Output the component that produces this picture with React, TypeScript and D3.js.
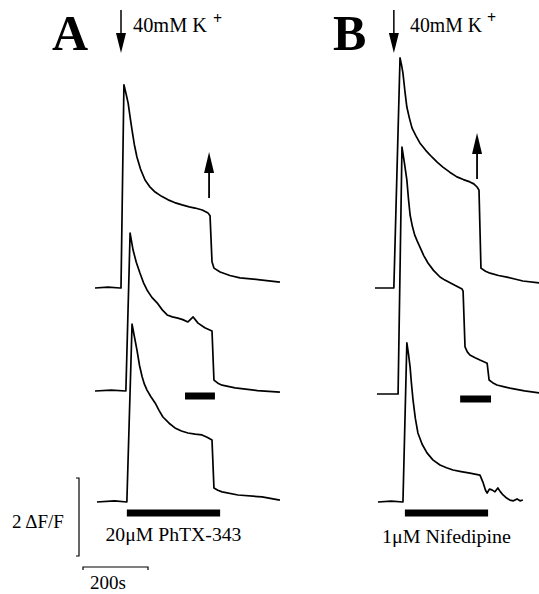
import { useEffect, useRef } from "react";
import * as d3 from "d3";

// [time (s), ΔF/F], time from the start of each panel's traces
const traceA1: [number, number][] = [
  [0, 0], [40, 0.02], [77, 0], [80, 0], [89, 5.21], [95, 5.0], [102, 4.74], [108, 4.38], [114, 4.05],
  [121, 3.68], [129, 3.36], [140, 3.05], [154, 2.77], [168, 2.6], [185, 2.46], [205, 2.35], [225, 2.26],
  [245, 2.19], [268, 2.13], [290, 2.08], [308, 2.05], [330, 2.0], [348, 1.92], [354, 1.85], [360, 0.67],
  [366, 0.51], [385, 0.41], [415, 0.32], [446, 0.26], [508, 0.21], [569, 0.15],
];
const traceA2: [number, number][] = [
  [0, 0], [50, 0.02], [95, 0], [108, 4.05], [117, 3.62], [127, 3.3], [138, 3.03], [149, 2.78], [160, 2.59],
  [175, 2.4], [191, 2.26], [207, 2.08], [222, 1.95], [238, 1.9], [255, 1.87], [270, 1.83], [286, 1.77],
  [302, 1.9], [317, 1.74], [338, 1.62], [360, 1.54], [366, 0.28], [378, 0.2], [391, 0.15], [431, 0.08],
  [500, 0.01], [569, -0.03],
];
const traceA3: [number, number][] = [
  [6, 0], [60, 0.03], [98, 0], [114, 4.56], [121, 4.25], [129, 3.9], [137, 3.5], [145, 3.21], [152, 3.02],
  [160, 2.87], [172, 2.7], [185, 2.54], [197, 2.35], [209, 2.18], [228, 2.02], [246, 1.9], [266, 1.82],
  [286, 1.77], [308, 1.74], [329, 1.72], [345, 1.66], [360, 1.59], [366, 0.36], [378, 0.3], [391, 0.26],
  [440, 0.18], [514, 0.13], [569, 0.05],
];
const traceB1: [number, number][] = [
  [0, 0], [55, 0], [58, 0], [77, 5.9], [82, 5.7], [86, 5.51], [92, 5.05], [98, 4.64], [106, 4.35],
  [114, 4.1], [126, 3.9], [138, 3.72], [156, 3.53], [175, 3.36], [192, 3.22], [209, 3.1], [230, 2.97],
  [252, 2.85], [272, 2.78], [292, 2.72], [304, 2.67], [314, 2.59], [320, 2.51], [326, 0.51], [340, 0.43],
  [354, 0.38], [380, 0.32], [406, 0.28], [430, 0.23], [455, 0.18], [505, 0.13],
];
const traceB2: [number, number][] = [
  [6, 0], [71, 0], [83, 6.33], [90, 5.95], [98, 5.49], [103, 5.0], [108, 4.59], [115, 4.3], [122, 4.08],
  [130, 3.92], [138, 3.77], [150, 3.55], [163, 3.36], [180, 3.17], [200, 3.0], [215, 2.92], [231, 2.85],
  [250, 2.77], [268, 2.69], [271, 2.64], [277, 1.21], [284, 1.08], [292, 1.0], [308, 0.93], [323, 0.87],
  [345, 0.79], [351, 0.36], [362, 0.29], [375, 0.23], [395, 0.19], [415, 0.15], [460, 0.08], [505, 0.03],
];
const traceB3: [number, number][] = [
  [9, 0], [50, 0.02], [86, 0], [98, 4.08], [103, 3.8], [108, 3.46], [112, 3.05], [117, 2.62], [124, 2.15],
  [132, 1.77], [145, 1.48], [160, 1.26], [178, 1.08], [200, 0.95], [220, 0.88], [240, 0.82], [265, 0.78],
  [292, 0.74], [323, 0.69], [332, 0.51], [340, 0.3], [345, 0.23], [352, 0.33], [360, 0.31], [369, 0.26],
  [378, 0.36], [386, 0.26], [394, 0.18], [405, 0.1], [415, 0.05], [426, 0.03], [437, 0.08], [446, 0.03],
  [455, 0.05],
];

// drug application periods [start, end] in s: short bar under row 2, long bar under row 3
const drugA: [number, number][] = [[277, 369], [98, 385]];
const drugB: [number, number][] = [[262, 357], [92, 348]];
const drugLabels = ["20\u03bcM PhTX-343", "1\u03bcM Nifedipine"];

const kOnTimes = [80, 58]; // 40mM K+ added
const kOffTimes = [351, 314]; // washout
const panelLabels = ["A", "B"];

const scaleTime = 200; // s
const scaleDF = 2; // ΔF/F

const serif = "'Liberation Serif', 'Times New Roman', serif";

function drawChart(node: SVGSVGElement) {
  const svg = d3.select(node);
  svg.selectAll("*").remove();

  const pxPer200 = 65;
  const xA = d3.scaleLinear().domain([0, scaleTime]).range([95, 95 + pxPer200]);
  const xB = d3.scaleLinear().domain([0, scaleTime]).range([375, 375 + pxPer200]);
  const dy = d3.scaleLinear().domain([0, scaleDF]).range([0, -78]);

  const panels = [
    { x: xA, traces: [traceA1, traceA2, traceA3], bases: [288, 391, 502], drug: drugA, labelX: 52, textX: 133, textW: 74, plusX: 213 },
    { x: xB, traces: [traceB1, traceB2, traceB3], bases: [288, 394, 502], drug: drugB, labelX: 333, textX: 410, textW: 72, plusX: 487 },
  ];

  panels.forEach((p, i) => {
    const g = svg.append("g");

    p.traces.forEach((tr, j) => {
      const base = p.bases[j];
      const line = d3
        .line<[number, number]>()
        .x((d) => p.x(d[0]))
        .y((d) => base + dy(d[1]));
      g.append("path")
        .attr("d", line(tr))
        .attr("fill", "none")
        .attr("stroke", "#000")
        .attr("stroke-width", 1.7)
        .attr("stroke-linejoin", "round");
    });

    // drug bars
    const barOffsets = [5, 11];
    p.drug.forEach((d, j) => {
      const y = p.bases[j + 1] + barOffsets[j];
      g.append("rect")
        .attr("x", p.x(d[0]))
        .attr("width", p.x(d[1]) - p.x(d[0]))
        .attr("y", y - 3.5)
        .attr("height", 7)
        .attr("fill", "#000");
    });

    const mid = (p.x(p.drug[1][0]) + p.x(p.drug[1][1])) / 2;
    g.append("text")
      .attr("x", mid)
      .attr("y", 541 + i * 2)
      .attr("text-anchor", "middle")
      .attr("font-family", serif)
      .attr("font-size", 19)
      .attr("textLength", i === 0 ? 136 : 129)
      .attr("lengthAdjust", "spacingAndGlyphs")
      .text(drugLabels[i]);

    // panel letter
    g.append("text")
      .attr("x", p.labelX)
      .attr("y", 50)
      .attr("font-family", serif)
      .attr("font-weight", "bold")
      .attr("font-size", 50)
      .text(panelLabels[i]);

    // K+ on arrow (down)
    const ax = p.x(kOnTimes[i]);
    g.append("line").attr("x1", ax).attr("x2", ax).attr("y1", 10).attr("y2", 38).attr("stroke", "#000").attr("stroke-width", 1.5);
    g.append("path").attr("d", `M${ax - 5},33 L${ax + 5},33 L${ax},53 Z`).attr("fill", "#000");

    g.append("text")
      .attr("x", p.textX)
      .attr("y", 32)
      .attr("font-family", serif)
      .attr("font-size", 20)
      .attr("textLength", p.textW)
      .attr("lengthAdjust", "spacingAndGlyphs")
      .text("40mM K");
    g.append("text")
      .attr("x", p.plusX)
      .attr("y", 24 - i * 1.5)
      .attr("font-family", serif)
      .attr("font-size", 16)
      .attr("font-weight", "bold")
      .text("+");

    // washout arrow (up)
    const ux = p.x(kOffTimes[i]);
    const top = i === 0 ? 152 : 133;
    g.append("line").attr("x1", ux).attr("x2", ux).attr("y1", top + 15).attr("y2", top + 46).attr("stroke", "#000").attr("stroke-width", 1.8);
    g.append("path").attr("d", `M${ux - 5},${top + 21} L${ux + 5},${top + 21} L${ux},${top} Z`).attr("fill", "#000");
  });

  // scale bars
  const sb = svg.append("g").attr("stroke", "#000").attr("fill", "none").attr("stroke-width", 1.2);
  const vx = 79,
    vTop = 478;
  const vBot = vTop - dy(scaleDF);
  sb.append("path").attr("d", `M${vx - 3},${vTop} H${vx} V${vBot} H${vx - 3}`);
  const hy = 567,
    hx0 = 83;
  const hx1 = hx0 + (xA(scaleTime) - xA(0));
  sb.append("path").attr("d", `M${hx0},${hy + 3} V${hy} H${hx1} V${hy + 3}`);

  svg.append("text")
    .attr("x", 12)
    .attr("y", 528)
    .attr("font-family", serif)
    .attr("font-size", 19)
    .text(`${scaleDF} \u0394F/F`);
  svg.append("text")
    .attr("x", 90)
    .attr("y", 589)
    .attr("font-family", serif)
    .attr("font-size", 19)
    .text(`${scaleTime}s`);
}

export default function App() {
  const ref = useRef<SVGSVGElement>(null);
  useEffect(() => {
    if (ref.current) drawChart(ref.current);
  }, []);
  return (
    <svg
      ref={ref}
      width={539}
      height={594}
      style={{ position: "absolute", left: 0, top: 0, background: "#fff" }}
    />
  );
}
